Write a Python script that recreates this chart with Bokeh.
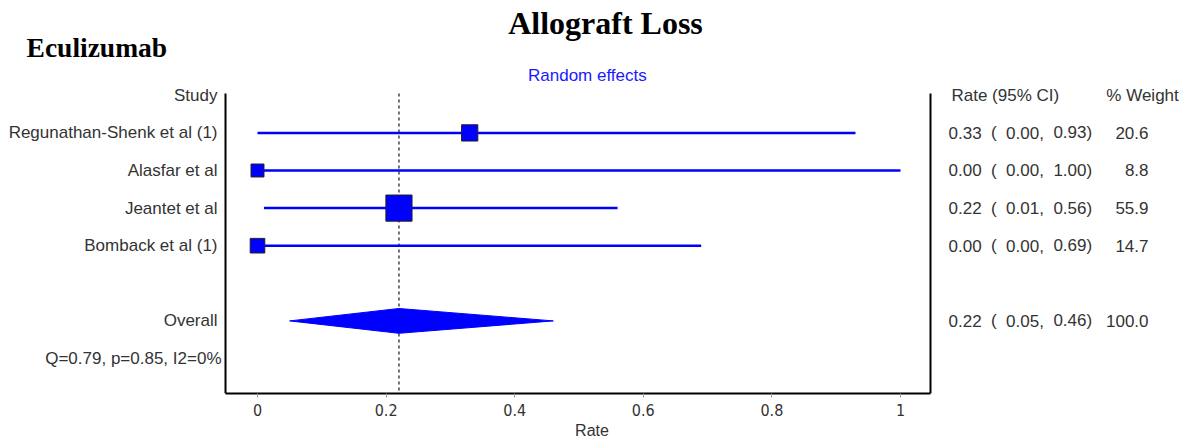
from bokeh.plotting import figure
from bokeh.models import (Range1d, LinearAxis, FixedTicker, Label, LabelSet,
                          ColumnDataSource)
from bokeh.core.properties import value
from bokeh.embed import file_html
from bokeh.resources import INLINE

# ---------------- data ----------------
studies = ["Regunathan-Shenk et al (1)", "Alasfar et al", "Jeantet et al", "Bomback et al (1)"]
rate = [0.33, 0.00, 0.22, 0.00]
lower = [0.00, 0.00, 0.01, 0.00]
upper = [0.93, 1.00, 0.56, 0.69]
weight = [20.6, 8.8, 55.9, 14.7]
overall_label = "Overall"
overall_rate = 0.22
overall_lower = 0.05
overall_upper = 0.46
overall_weight = 100.0
het_text = "Q=0.79, p=0.85, I2=0%"
x_ticks = [0, 0.2, 0.4, 0.6, 0.8, 1]
x_tick_labels = ["0", "0.2", "0.4", "0.6", "0.8", "1"]
title_text = "Allograft Loss"
subtitle_text = "Eculizumab"
model_text = "Random effects"

# ---------------- layout helpers ----------------
n = len(studies)
rows = list(range(1, n + 1))
overall_row = n + 2
het_row = n + 3

SANS = "Liberation Sans"
NARROW = "'Liberation Sans Narrow', 'DejaVu Sans Condensed', 'Liberation Sans'"
SERIF = "Liberation Serif"
TXT = "#333333"
FS = "17px"

# frame limits of the forest panel (data units)
FX0, FX1 = -0.0498, 1.0466
FY_TOP, FY_BOT = -0.048, 7.9309

p = figure(width=1183, height=441,
           x_range=Range1d(-0.39969, 1.44012), y_range=Range1d(FY_BOT, -2.5213),
           output_backend="svg", toolbar_location=None,
           x_axis_location=None, y_axis_location=None,
           min_border_left=0, min_border_right=0,
           min_border_top=0, min_border_bottom=48)
p.outline_line_color = None
p.grid.visible = False
p.background_fill_color = "white"
p.border_fill_color = "white"

# axes
xaxis = LinearAxis(ticker=FixedTicker(ticks=x_ticks), axis_label="Rate", bounds=(FX0, FX1))
xaxis.major_label_overrides = dict(zip(x_ticks, x_tick_labels))
xaxis.axis_line_width = 2
xaxis.axis_line_color = "black"
xaxis.major_tick_in = 0
xaxis.major_tick_out = 4
xaxis.major_tick_line_color = "#999999"
xaxis.minor_tick_line_color = None
xaxis.major_label_standoff = 6
xaxis.major_label_text_font = NARROW
xaxis.major_label_text_font_size = "16px"
xaxis.major_label_text_color = TXT
xaxis.axis_label_text_font = SANS
xaxis.axis_label_text_font_style = "normal"
xaxis.axis_label_text_font_size = "16px"
xaxis.axis_label_text_color = TXT
xaxis.axis_label_standoff = 3
p.add_layout(xaxis, "below")

for side, loc in (("left", FX0), ("right", FX1)):
    ax = LinearAxis(ticker=FixedTicker(ticks=[]), fixed_location=loc, bounds=(FY_TOP, FY_BOT))
    ax.axis_line_width = 2
    ax.axis_line_color = "black"
    ax.major_tick_line_color = None
    ax.minor_tick_line_color = None
    ax.major_tick_out = 0
    ax.major_label_standoff = 0
    ax.major_label_text_color = None
    p.add_layout(ax, side)

# reference line at pooled estimate
p.segment(x0=[overall_rate], x1=[overall_rate], y0=[FY_TOP], y1=[FY_BOT],
          line_color="#444444", line_width=1.5, line_dash="3 3")

# CI lines and squares
src = ColumnDataSource(dict(
    y=rows, rate=rate, lower=lower, upper=upper, weight=weight, study=studies,
    size=[10.5 + 0.28 * w for w in weight],
    rstr=[f"{r:.2f}" for r in rate],
    lstr=[f"{l:.2f}," for l in lower],
    ustr=[f"{u:.2f})" for u in upper],
    paren=["(" for _ in rate],
    wstr=[f"{w:.1f}" for w in weight],
))
p.segment(x0="lower", x1="upper", y0="y", y1="y", source=src,
          line_color="#0000ff", line_width=2.5)
p.scatter(x="rate", y="y", size="size", marker="square", source=src,
          fill_color="#0000ff", line_color="#222222", line_width=1)

# overall diamond
h = 0.33
p.patch(x=[overall_lower, overall_rate, overall_upper, overall_rate],
        y=[overall_row, overall_row - h, overall_row, overall_row + h],
        fill_color="#0000ff", line_color="#0000ff", line_width=1)

# ---------------- texts ----------------
def lab(x, y, text, align="left", font=SANS, size=FS, color=TXT, style="normal"):
    p.add_layout(Label(x=x, y=y, text=text, text_align=align, text_baseline="middle",
                       text_font=font, text_font_size=size, text_color=color,
                       text_font_style=style))

X_LEFT = -0.0622
X_RATE = 1.0747
X_PAREN = 1.1407
X_LO = 1.1642
X_HI = 1.2378
X_W = 1.3857

common = dict(text_baseline="middle", text_font=value(SANS), text_font_size=value(FS),
              text_color=TXT, source=src)
p.add_layout(LabelSet(x=X_LEFT, y="y", text="study", text_align="right", **common))
p.add_layout(LabelSet(x=X_RATE, y="y", text="rstr", text_align="left", **common))
p.add_layout(LabelSet(x=X_PAREN, y="y", text="paren", text_align="left", **common))
p.add_layout(LabelSet(x=X_LO, y="y", text="lstr", text_align="left", **common))
p.add_layout(LabelSet(x=X_HI, y="y", text="ustr", text_align="left", **common))
p.add_layout(LabelSet(x=X_W, y="y", text="wstr", text_align="right", **common))

lab(X_LEFT, 0, "Study", align="right")
lab(1.0793, 0, "Rate (95% CI)")
lab(1.3201, 0, "% Weight")

lab(X_LEFT, overall_row, overall_label, align="right")
lab(X_RATE, overall_row, f"{overall_rate:.2f}")
lab(X_PAREN, overall_row, "(")
lab(X_LO, overall_row, f"{overall_lower:.2f},")
lab(X_HI, overall_row, f"{overall_upper:.2f})")
lab(X_W, overall_row, f"{overall_weight:.1f}", align="right")

lab(-0.056, het_row, het_text, align="right")

lab(0.513, -0.527, model_text, align="center", color="#1a1aff")
lab(0.5412, -1.936, title_text, align="center", font=SERIF, size="32px", color="black", style="bold")
lab(-0.3592, -1.271, subtitle_text, align="left", font=SERIF, size="27.5px", color="black", style="bold")

open("out.html", "w").write(file_html(p, INLINE))
